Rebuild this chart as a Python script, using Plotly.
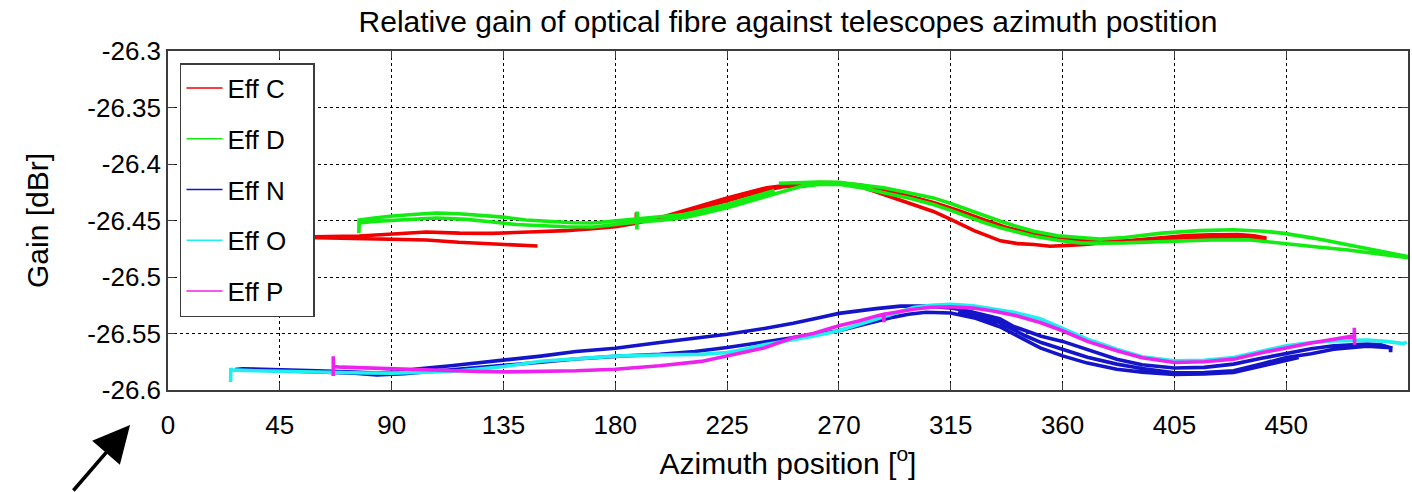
import plotly.graph_objects as go

# Azimuth sweeps (degrees) and relative gain (dBr) for each fibre link.
# Each series is one continuous recording: the telescope sweeps out and back,
# so the traces form narrow hysteresis loops.

eff_c_az = [148.7, 140, 130.6, 117, 104, 90, 77, 58, 45,
            47, 58, 77, 90.4, 104, 117.3, 130.6, 148, 160, 170.8, 180, 188.4,
            188.5, 188.6, 195, 207.5, 225, 241, 254.5, 262, 270.7, 278, 284, 293,
            301.5, 308, 315, 324.4, 335, 342, 348.5, 355, 362, 369, 380, 389.6,
            400, 410, 420, 430.7, 437, 442,
            440, 430, 420, 410, 400, 390, 380, 370, 360, 348.5, 338, 328, 318,
            308, 298, 288, 278, 268, 258, 248, 238, 228, 218, 208, 198, 189, 180, 172]
eff_c_gain = [-26.4726, -26.4718, -26.4711, -26.4693, -26.4673, -26.4665, -26.4658, -26.4649, -26.4645,
              -26.4640, -26.4645, -26.4637, -26.4620, -26.4602, -26.4612, -26.4614, -26.4600, -26.4590,
              -26.4572, -26.4555, -26.4525,
              -26.4430, -26.4520, -26.4495, -26.4417, -26.4300, -26.4210, -26.4174, -26.4165, -26.4166,
              -26.4195, -26.4240, -26.4300, -26.4370, -26.4420, -26.4490, -26.4590, -26.4680, -26.4705,
              -26.4713, -26.4728, -26.4720, -26.4712, -26.4690, -26.4670, -26.4650, -26.4634, -26.4626,
              -26.4625, -26.4635, -26.4655,
              -26.4665, -26.4650, -26.4645, -26.4650, -26.4660, -26.4675, -26.4685, -26.4680, -26.4660,
              -26.4620, -26.4565, -26.4490, -26.4410, -26.4340, -26.4280, -26.4225, -26.4185, -26.4170,
              -26.4178, -26.4200, -26.4245, -26.4305, -26.4370, -26.4430, -26.4480, -26.4515, -26.4545,
              -26.4565]

eff_d_az = [245.8, 255, 262, 270, 280, 288, 298, 308, 315, 321.7, 328, 335, 342, 348.5, 358, 367,
            375, 385, 400, 415, 428.6, 441, 449.2, 461.5, 474.9, 488.3, 499,
            499, 488.3, 474.9, 461.5, 449.2, 434.7, 420, 400, 385, 375, 367, 358, 348.5, 342, 335,
            328, 321.7, 315, 308, 298, 288, 280, 270, 262, 254.5, 241, 233, 225, 215, 207.5, 198,
            188.7, 188.7, 188.8, 188.9,
            180, 170.8, 160, 150.7, 140, 130.6, 120, 108, 100, 90.4, 83, 77, 76.8, 76.9,
            83, 90.4, 100, 108, 117, 125.4, 135, 144, 155, 163, 170.8, 180, 188.4, 198, 207.5,
            215, 225, 233, 241, 244]
eff_d_gain = [-26.4170, -26.4163, -26.4160, -26.4163, -26.4185, -26.4210, -26.4255, -26.4300,
              -26.4350, -26.4402, -26.4455, -26.4506, -26.4555, -26.4595, -26.4635, -26.4654,
              -26.4665, -26.4650, -26.4612, -26.4590, -26.4582, -26.4595, -26.4614, -26.4658,
              -26.4717, -26.4776, -26.4820,
              -26.4830, -26.4797, -26.4761, -26.4732, -26.4702, -26.4670, -26.4672, -26.4690,
              -26.4698, -26.4700, -26.4698, -26.4675, -26.4639, -26.4605, -26.4565, -26.4515,
              -26.4462, -26.4410, -26.4358, -26.4300, -26.4254, -26.4215, -26.4180, -26.4182,
              -26.4200, -26.4284, -26.4335, -26.4387, -26.4440, -26.4476, -26.4500,
              -26.4513, -26.4580, -26.4420, -26.4513,
              -26.4535, -26.4558, -26.4555, -26.4549, -26.4535, -26.4513, -26.4490, -26.4478,
              -26.4485, -26.4496, -26.4508, -26.4522, -26.4610, -26.4496,
              -26.4478, -26.4460, -26.4445, -26.4434, -26.4440, -26.4451, -26.4470, -26.4496,
              -26.4512, -26.4520, -26.4522, -26.4505, -26.4487, -26.4470, -26.4447, -26.4410,
              -26.4358, -26.4305, -26.4254, -26.4235]

eff_n_az = [455, 445, 435, 428.8, 417, 405, 392, 381.8, 370, 360, 351, 342, 334.7, 325, 315, 305,
            298, 292, 285.2, 278, 270, 260, 251.6, 238, 225, 212, 197.9, 180, 164, 150, 135, 120,
            105, 95, 84, 75, 60, 45, 30, 27,
            30, 45, 60, 75, 84, 92, 100, 113.8, 125, 135.3, 150, 164.2, 180, 197.9, 212, 225, 240,
            251.6, 262, 270, 285, 294.8, 305, 315, 322, 327, 334.7, 340, 351.4, 360, 370, 381.8,
            392, 405, 417, 428.8, 440, 450, 460, 469.1, 482.5, 488, 491.9, 492, 492.1,
            482.5, 469.1, 460, 450, 440, 428.8, 417, 405, 392, 381.8, 370, 360, 351.4, 345,
            334.7, 325, 318]
eff_n_gain = [-26.5712, -26.5765, -26.5820, -26.5845, -26.5858, -26.5862, -26.5842, -26.5816,
              -26.5762, -26.5698, -26.5628, -26.5520, -26.5440, -26.5365, -26.5318, -26.5312,
              -26.5330, -26.5355, -26.5390, -26.5432, -26.5476, -26.5510, -26.5538, -26.5582,
              -26.5624, -26.5660, -26.5683, -26.5702, -26.5725, -26.5755, -26.5782, -26.5812,
              -26.5842, -26.5856, -26.5866, -26.5852, -26.5840, -26.5828, -26.5820, -26.5818,
              -26.5812, -26.5818, -26.5830, -26.5842, -26.5850, -26.5838, -26.5815, -26.5786,
              -26.5760, -26.5732, -26.5700, -26.5660, -26.5630, -26.5580, -26.5540, -26.5506,
              -26.5455, -26.5410, -26.5360, -26.5322, -26.5280, -26.5258, -26.5258, -26.5275,
              -26.5300, -26.5330, -26.5370, -26.5435, -26.5524, -26.5570, -26.5640, -26.5727,
              -26.5777, -26.5805, -26.5800, -26.5771, -26.5720, -26.5675, -26.5635, -26.5609,
              -26.5594, -26.5600, -26.5625, -26.5665, -26.5625,
              -26.5612, -26.5640, -26.5680, -26.5712, -26.5770, -26.5830, -26.5845, -26.5848,
              -26.5810, -26.5771, -26.5710, -26.5639, -26.5580, -26.5520, -26.5403, -26.5345,
              -26.5305]

eff_o_az = [25.2, 25.3, 25.5, 35, 45, 60, 66.8, 80, 90, 100, 113.8, 125, 135.3, 150, 164, 180,
            197.9, 214.6, 225, 232, 239.8, 251.6, 259.6, 270, 278, 285.2, 292, 300, 307, 315, 324,
            332, 341, 351, 360, 370, 381.8, 392, 405, 417, 428.8, 440, 450, 460, 469.1, 482.5, 490,
            497.3, 498.5]
eff_o_gain = [-26.5930, -26.5805, -26.5822, -26.5830, -26.5836, -26.5842, -26.5845, -26.5850,
              -26.5851, -26.5848, -26.5836, -26.5815, -26.5792, -26.5745, -26.5722, -26.5700,
              -26.5690, -26.5685, -26.5668, -26.5640, -26.5600, -26.5555, -26.5524, -26.5476,
              -26.5420, -26.5373, -26.5320, -26.5270, -26.5250, -26.5242, -26.5255, -26.5280,
              -26.5315, -26.5370, -26.5455, -26.5550, -26.5639, -26.5705, -26.5742, -26.5738,
              -26.5712, -26.5660, -26.5609, -26.5580, -26.5565, -26.5559, -26.5570, -26.5589,
              -26.5575]

eff_p_az = [66.5, 66.5, 66.6, 70, 80, 90, 100, 113.8, 125, 135.3, 150, 164.2, 180, 197.9, 214.6,
            225, 239.8, 251.6, 259.6, 270, 278, 285.2, 288, 288.1, 288.2, 300, 307, 315, 324, 332,
            341, 351, 360, 370, 381.8, 392, 405, 417, 428.8, 440, 450, 460, 469.1, 477.4, 477.4,
            477.5]
eff_p_gain = [-26.5875, -26.5702, -26.5792, -26.5798, -26.5805, -26.5815, -26.5825, -26.5832,
              -26.5836, -26.5840, -26.5836, -26.5830, -26.5816, -26.5786, -26.5747, -26.5700,
              -26.5628, -26.5535, -26.5500, -26.5432, -26.5390, -26.5344, -26.5330, -26.5400,
              -26.5330, -26.5285, -26.5268, -26.5263, -26.5275, -26.5300, -26.5340, -26.5403,
              -26.5476, -26.5570, -26.5653, -26.5715, -26.5757, -26.5750, -26.5727, -26.5670,
              -26.5624, -26.5585, -26.5550, -26.5521, -26.5450, -26.5600]

series_names = ["Eff C", "Eff D", "Eff N", "Eff O", "Eff P"]
series_colors = ["#f00000", "#12ec12", "#1414c8", "#1ef0f0", "#ee22ee"]
series_az = [eff_c_az, eff_d_az, eff_n_az, eff_o_az, eff_p_az]
series_gain = [eff_c_gain, eff_d_gain, eff_n_gain, eff_o_gain, eff_p_gain]

x_ticks = [0, 45, 90, 135, 180, 225, 270, 315, 360, 405, 450]
y_ticks = [-26.6, -26.55, -26.5, -26.45, -26.4, -26.35, -26.3]
y_tick_text = ["-26.6", "-26.55", "-26.5", "-26.45", "-26.4", "-26.35", "-26.3"]

FONT = "Liberation Sans, Arial, Helvetica, sans-serif"
AXIS_COLOR = "#3c3c3c"
LEGEND_PAD = "\u00a0\u00a0\u00a0"  # keeps some blank room right of the legend labels

fig = go.Figure()

# thick measured traces
for name, color, xs, ys in zip(series_names, series_colors, series_az, series_gain):
    fig.add_trace(go.Scatter(
        x=xs, y=ys, mode="lines", name=name, showlegend=False,
        line=dict(color=color, width=3.6), legendgroup=name,
    ))

# thin legend samples
for name, color in zip(series_names, series_colors):
    fig.add_trace(go.Scatter(
        x=[None], y=[None], mode="lines", name=name + LEGEND_PAD, legendgroup=name,
        line=dict(color=color, width=1.5),
    ))

axis_common = dict(
    showline=True, linecolor=AXIS_COLOR, linewidth=1.5, mirror="ticks",
    ticks="inside", ticklen=7, tickwidth=1.3, tickcolor=AXIS_COLOR,
    showgrid=True, gridcolor="#000000", gridwidth=1, griddash="dot",
    zeroline=False, tickfont=dict(family=FONT, size=26, color="#000000"),
)

fig.update_layout(
    width=1412, height=492,
    margin=dict(l=168, r=2, t=51, b=102),
    paper_bgcolor="white", plot_bgcolor="white",
    font=dict(family=FONT, color="#000000"),
    title=dict(
        text="Relative gain of optical fibre against telescopes azimuth postition",
        font=dict(family=FONT, size=30, color="#000000"),
        x=0.5, xref="paper", xanchor="center",
        y=1 - 21 / 492, yref="container", yanchor="middle",
    ),
    xaxis=dict(
        range=[0, 499], tickvals=x_ticks, ticktext=[str(v) for v in x_ticks],
        ticklabelstandoff=11,
        title=dict(text="Azimuth position [<sup>o</sup>]",
                   font=dict(family=FONT, size=30, color="#000000"), standoff=14),
        **axis_common,
    ),
    yaxis=dict(
        range=[-26.6, -26.3], tickvals=y_ticks, ticktext=y_tick_text,
        ticklabelstandoff=0,
        title=dict(text="Gain [dBr]",
                   font=dict(family=FONT, size=30, color="#000000"), standoff=30),
        **axis_common,
    ),
    legend=dict(
        x=12 / 1242, y=(390 - 63) / 339, xanchor="left", yanchor="top",
        bgcolor="white", bordercolor=AXIS_COLOR, borderwidth=1.5,
        font=dict(family=FONT, size=26, color="#000000"),
        tracegroupgap=14, itemwidth=36,
    ),
    showlegend=True,
)

# arrow pointing at the axis origin
fig.add_annotation(
    x=(130 - 168) / 1242, y=(390 - 425) / 339, xref="paper", yref="paper",
    ax=-58, ay=74, text="", showarrow=True,
    arrowhead=2, arrowsize=2.1, arrowwidth=3.5, arrowcolor="#000000",
)

fig.write_html("out.html")
